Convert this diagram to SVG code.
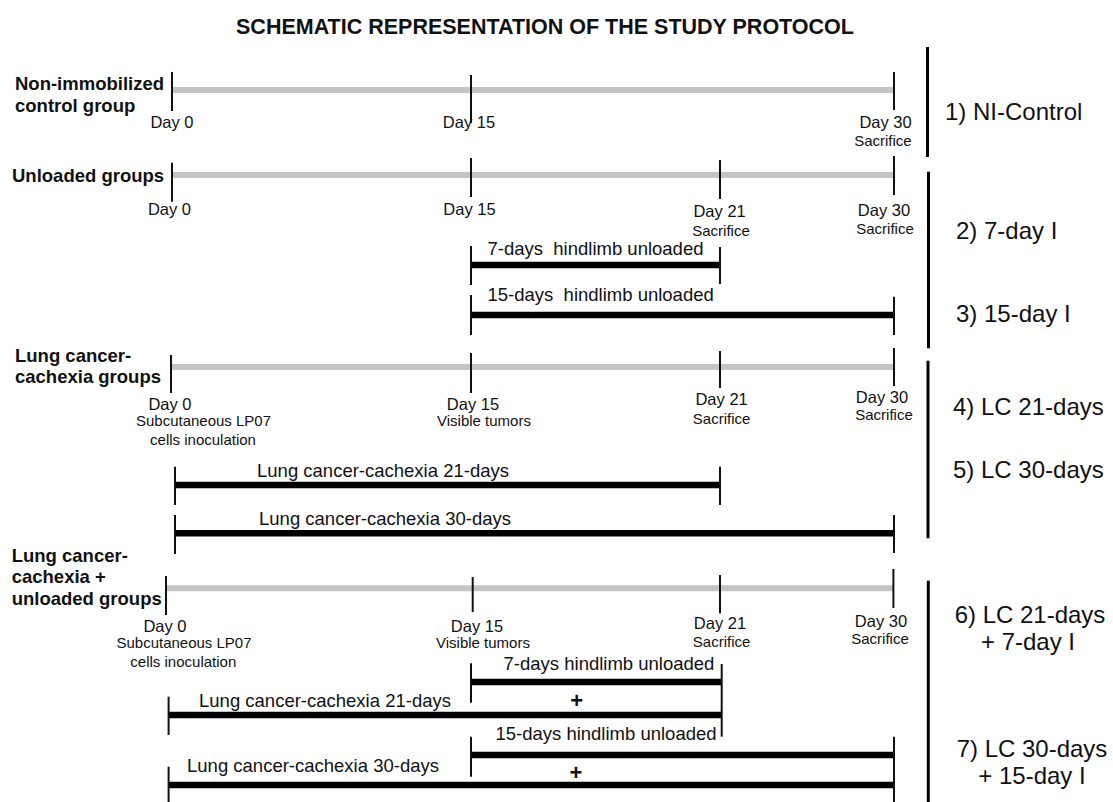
<svg xmlns="http://www.w3.org/2000/svg" width="1113" height="802" viewBox="0 0 1113 802">
<style>
text{font-family:"Liberation Sans",Arial,Helvetica,sans-serif;fill:#111}
.title{font-size:21.5px;font-weight:bold}
.grp{font-size:18.5px;font-weight:bold}
.day{font-size:16.5px}
.sub{font-size:15px}
.bl{font-size:18.5px}
.rl{font-size:24px}
.plus{font-size:22px;font-weight:bold}
.grey{stroke:#c4c4c4;stroke-width:6;fill:none}
.bar{stroke:#000;stroke-width:6.5;fill:none}
.tick{stroke:#111;stroke-width:2;fill:none}
.br{stroke:#000;stroke-width:3;fill:none}
.m{text-anchor:middle}
.e{text-anchor:end}
</style>
<rect width="1113" height="802" fill="#fff"/>
<text class="title m" x="545" y="34">SCHEMATIC REPRESENTATION OF THE STUDY PROTOCOL</text>

<g id="sec1-ni-control">
<text class="grp" x="15" y="90">Non-immobilized</text>
<text class="grp" x="15" y="111.7">control group</text>
<line class="grey" x1="172" y1="90" x2="894" y2="90"/>
<line class="tick" x1="172" y1="72" x2="172" y2="111"/>
<line class="tick" x1="471" y1="75" x2="471" y2="123"/>
<line class="tick" x1="894" y1="72" x2="894" y2="110"/>
<text class="day m" x="172" y="128.3">Day 0</text>
<text class="day m" x="469" y="128.3">Day 15</text>
<text class="day e" x="911.7" y="128.3">Day 30</text>
<text class="sub e" x="911.7" y="145.5">Sacrifice</text>
<line class="br" x1="927.5" y1="47" x2="927.5" y2="157"/>
<text class="rl" x="945" y="120">1) NI-Control</text>
</g>

<g id="sec2-unloaded">
<text class="grp" x="12" y="181.7">Unloaded groups</text>
<line class="grey" x1="172" y1="175" x2="894" y2="175"/>
<line class="tick" x1="172" y1="162.7" x2="172" y2="201.7"/>
<line class="tick" x1="471" y1="158" x2="471" y2="197"/>
<line class="tick" x1="720" y1="160" x2="720" y2="199"/>
<line class="tick" x1="894" y1="156" x2="894" y2="195"/>
<text class="day m" x="169.5" y="215">Day 0</text>
<text class="day m" x="469.5" y="215">Day 15</text>
<text class="day m" x="719.6" y="216.7">Day 21</text>
<text class="sub m" x="721" y="236">Sacrifice</text>
<text class="day m" x="884" y="216">Day 30</text>
<text class="sub m" x="885" y="233.5">Sacrifice</text>
<line class="br" x1="928.5" y1="171.7" x2="928.5" y2="348.3"/>
<text class="rl" x="956" y="239.3">2) 7-day I</text>
<text class="rl" x="956" y="321.7">3) 15-day I</text>
</g>

<g id="sec2-7day-unloaded">
<line class="bar" x1="471" y1="265" x2="720" y2="265"/>
<line class="tick" x1="471" y1="246" x2="471" y2="285"/>
<line class="tick" x1="720" y1="247" x2="720" y2="284"/>
<text class="bl" x="487.5" y="255">7-days&#160; hindlimb unloaded</text>
</g>

<g id="sec2-15day-unloaded">
<line class="bar" x1="471" y1="315" x2="894" y2="315"/>
<line class="tick" x1="471" y1="295" x2="471" y2="335"/>
<line class="tick" x1="894" y1="296.7" x2="894" y2="335"/>
<text class="bl" x="487.5" y="301">15-days&#160; hindlimb unloaded</text>
</g>

<g id="sec3-lung-cancer">
<text class="grp" x="15" y="361.6">Lung cancer-</text>
<text class="grp" x="15" y="383.3">cachexia groups</text>
<line class="grey" x1="172" y1="367" x2="894" y2="367"/>
<line class="tick" x1="171" y1="355" x2="171" y2="393"/>
<line class="tick" x1="471" y1="353" x2="471" y2="393"/>
<line class="tick" x1="720" y1="351" x2="720" y2="388"/>
<line class="tick" x1="894" y1="348" x2="894" y2="386"/>
<text class="day m" x="170" y="410">Day 0</text>
<text class="sub m" x="203.5" y="426">Subcutaneous LP07</text>
<text class="sub m" x="203" y="445">cells inoculation</text>
<text class="day m" x="473" y="410">Day 15</text>
<text class="sub m" x="484" y="426">Visible tumors</text>
<text class="day m" x="721.6" y="405">Day 21</text>
<text class="sub m" x="721.6" y="424">Sacrifice</text>
<text class="day m" x="882" y="403">Day 30</text>
<text class="sub m" x="884" y="419.5">Sacrifice</text>
<line class="br" x1="928" y1="360.7" x2="928" y2="538.3"/>
<text class="rl" x="953" y="415">4) LC 21-days</text>
<text class="rl" x="953" y="478.3">5) LC 30-days</text>
</g>

<g id="sec3-lc21">
<line class="bar" x1="175" y1="485" x2="720" y2="485"/>
<line class="tick" x1="175" y1="466.7" x2="175" y2="505"/>
<line class="tick" x1="720" y1="466.7" x2="720" y2="505"/>
<text class="bl m" x="383" y="476.7">Lung cancer-cachexia 21-days</text>
</g>

<g id="sec3-lc30">
<line class="bar" x1="175" y1="533.3" x2="894" y2="533.3"/>
<line class="tick" x1="175" y1="515" x2="175" y2="554"/>
<line class="tick" x1="894" y1="515" x2="894" y2="553"/>
<text class="bl m" x="385" y="525">Lung cancer-cachexia 30-days</text>
</g>

<g id="sec4-lc-unloaded">
<text class="grp" x="11.7" y="561.6">Lung cancer-</text>
<text class="grp" x="11.7" y="583.3">cachexia +</text>
<text class="grp" x="11.7" y="605">unloaded groups</text>
<line class="grey" x1="166" y1="588.3" x2="894" y2="588.3"/>
<line class="tick" x1="166" y1="576" x2="166" y2="615"/>
<line class="tick" x1="472.7" y1="577" x2="472.7" y2="612"/>
<line class="tick" x1="720" y1="575" x2="720" y2="613.3"/>
<line class="tick" x1="893.4" y1="569" x2="893.4" y2="608"/>
<text class="day m" x="165" y="631.7">Day 0</text>
<text class="sub m" x="184" y="648.3">Subcutaneous LP07</text>
<text class="sub m" x="183.3" y="666.7">cells inoculation</text>
<text class="day m" x="477" y="631.7">Day 15</text>
<text class="sub m" x="483" y="648.3">Visible tumors</text>
<text class="day m" x="720" y="629.3">Day 21</text>
<text class="sub m" x="721.6" y="647.3">Sacrifice</text>
<text class="day m" x="881" y="626.5">Day 30</text>
<text class="sub m" x="880" y="643.5">Sacrifice</text>
<line class="br" x1="928.3" y1="580.7" x2="928.3" y2="802"/>
<text class="rl m" x="1030" y="623.3">6) LC 21-days</text>
<text class="rl m" x="1028" y="650">+ 7-day I</text>
<text class="rl m" x="1032" y="756.7">7) LC 30-days</text>
<text class="rl m" x="1032" y="784">+ 15-day I</text>
</g>

<g id="sec4-lc21-7day">
<line class="bar" x1="471" y1="682" x2="721.7" y2="682"/>
<line class="tick" x1="471" y1="663.3" x2="471" y2="702.7"/>
<text class="bl m" x="609" y="670">7-days hindlimb unloaded</text>
<text class="plus m" x="576.7" y="707.8">+</text>
<line class="bar" x1="168.6" y1="715" x2="721.7" y2="715"/>
<line class="tick" x1="168.6" y1="696.7" x2="168.6" y2="735"/>
<line class="tick" x1="721.7" y1="664" x2="721.7" y2="736.7"/>
<text class="bl m" x="325" y="706.7">Lung cancer-cachexia 21-days</text>
</g>

<g id="sec4-lc30-15day">
<line class="bar" x1="471" y1="755" x2="894" y2="755"/>
<line class="tick" x1="471" y1="736.7" x2="471" y2="776.7"/>
<text class="bl m" x="606" y="740">15-days hindlimb unloaded</text>
<text class="plus m" x="576" y="779.5">+</text>
<line class="bar" x1="168.6" y1="785" x2="894" y2="785"/>
<line class="tick" x1="168.6" y1="766.7" x2="168.6" y2="802"/>
<line class="tick" x1="894" y1="736.7" x2="894" y2="802"/>
<text class="bl m" x="313" y="771.7">Lung cancer-cachexia 30-days</text>
</g>
</svg>
